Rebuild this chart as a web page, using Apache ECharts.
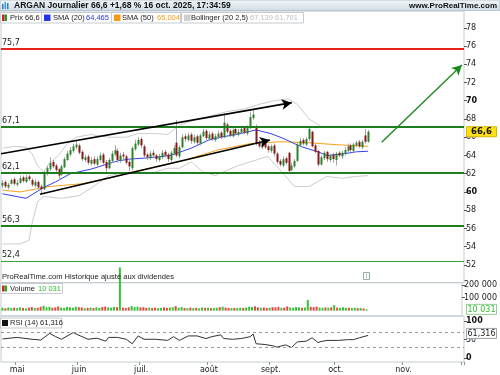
<!DOCTYPE html>
<html><head><meta charset="utf-8">
<script src="https://cdn.jsdelivr.net/npm/echarts@6/dist/echarts.min.js"></script>
<style>html,body{margin:0;padding:0;background:#fff}#c{width:500px;height:375px}</style>
</head><body><div id="c"></div><script>
// ---------- data ----------
const startDate = '2025-04-24';
const holidays = ['2025-05-01'];
const totalSlots = 157;
const monthLabels = {4:'mai',5:'juin',6:'juil.',7:'août',8:'sept.',9:'oct.',10:'nov.'};

const opens = [60.7,61.1,60.5,60.9,61.4,60.8,61.0,61.6,61.1,61.7,61.3,60.7,61.1,60.6,60.3,62.0,62.5,63.3,62.9,62.5,
61.9,62.7,63.5,64.1,64.5,64.9,65.1,64.4,63.5,63.9,63.1,63.6,63.0,63.5,64.1,63.3,62.6,63.4,64.1,64.5,
63.4,64.1,63.9,63.3,62.6,64.7,65.2,65.8,65.0,64.1,63.7,64.3,64.0,63.5,63.8,64.4,64.1,63.5,64.2,65.4,
63.9,64.9,66.1,65.7,66.3,65.5,66.1,65.3,66.1,66.7,65.8,66.4,65.7,66.0,66.5,66.0,67.4,66.7,66.1,66.9,
66.3,66.5,67.0,66.4,67.0,68.1,67.2,65.4,64.9,65.5,65.0,64.5,65.1,64.2,63.4,62.9,63.7,64.3,62.4,62.8,
63.4,65.1,65.7,65.2,65.8,66.6,65.1,64.5,63.0,63.7,64.4,63.5,64.1,63.5,64.3,63.9,64.2,64.5,65.1,64.5,
65.1,65.5,64.9,66.2,65.5];
const closes = [61.0,60.6,60.8,61.3,60.9,61.0,61.5,61.2,61.6,61.4,60.8,61.1,60.5,60.3,62.0,62.6,63.2,62.8,62.4,61.8,
62.8,63.6,64.2,64.6,65.0,65.2,64.3,63.6,63.8,63.2,63.5,63.1,63.6,64.0,63.2,62.6,63.5,64.2,64.6,63.5,
64.0,63.9,63.2,62.8,64.8,65.3,65.7,65.1,64.0,63.8,64.2,64.0,63.6,63.9,64.3,64.0,63.6,64.3,64.8,64.0,
64.9,66.0,65.8,66.2,65.6,66.0,65.4,66.2,66.6,65.9,66.3,65.8,66.1,66.4,66.0,67.6,66.6,66.2,66.8,66.4,
66.6,66.9,66.5,67.0,68.2,68.5,65.3,65.0,65.4,64.9,64.6,65.0,64.2,63.3,63.0,63.6,63.2,62.3,62.9,63.4,
65.2,65.6,65.3,65.8,66.9,65.0,64.4,63.0,63.8,64.3,63.6,64.0,63.6,64.2,64.0,64.3,64.6,65.0,64.6,65.2,
65.4,65.0,65.5,65.5,66.6];
const highs = [61.3,61.3,61.0,61.5,61.6,61.3,61.8,61.8,61.9,61.9,61.5,61.4,61.3,60.8,62.3,62.9,63.8,63.5,63.1,62.6,
63.0,63.8,64.5,64.9,65.3,65.6,65.3,64.6,64.1,64.1,63.8,63.9,63.9,64.3,64.3,63.5,63.7,64.5,65.1,64.8,
64.3,64.4,64.1,63.5,65.0,65.7,66.0,66.0,65.2,64.3,64.5,64.6,64.2,64.2,64.6,64.6,64.3,64.5,65.1,67.9,
65.1,66.3,66.4,66.5,66.5,66.3,66.3,66.4,66.9,66.9,66.6,66.6,66.4,66.7,66.7,68.6,67.6,66.9,67.0,67.1,
66.9,67.1,67.2,67.3,68.8,69.0,67.4,65.7,65.6,65.7,65.2,65.2,65.3,64.4,63.6,63.9,63.9,64.4,63.2,63.6,
65.4,65.9,65.9,66.0,67.1,66.7,65.3,64.6,64.0,64.5,64.5,64.2,64.3,64.4,64.5,64.5,64.9,65.3,65.3,65.4,
65.6,65.7,65.7,66.9,66.8];
const lows = [60.4,60.4,60.3,60.8,60.7,60.6,60.9,61.0,61.0,61.2,60.6,60.5,60.3,59.8,60.2,61.8,62.3,62.6,62.2,61.3,
61.8,62.6,63.4,63.9,64.3,64.7,64.1,63.4,63.3,63.0,62.9,62.9,62.8,63.3,63.0,62.2,62.5,63.2,63.9,63.2,
63.2,63.6,63.0,62.3,62.4,64.5,65.0,64.8,63.8,63.5,63.5,63.7,63.3,63.3,63.6,63.8,63.3,63.3,64.0,63.8,
63.7,64.8,65.5,65.5,65.3,65.3,65.1,65.1,66.0,65.7,65.6,65.6,65.5,65.8,65.8,65.9,66.4,66.0,66.0,66.2,
66.1,66.3,66.3,66.2,66.9,67.9,65.1,64.8,64.7,64.7,64.3,64.3,63.9,63.1,62.8,62.7,63.0,62.1,62.3,62.6,
63.3,64.9,65.1,65.0,65.6,64.9,64.2,62.8,62.9,63.5,63.3,63.3,63.2,62.9,63.8,63.6,64.0,64.3,64.4,64.3,
64.9,64.8,64.7,65.3,65.4];
const volumes = [22000,18000,25000,20000,23000,19000,26000,21000,17000,24000,28000,20000,22000,31000,38000,
27000,30000,22000,25000,33000,24000,21000,29000,26000,23000,30000,27000,25000,19000,22000,
24000,20000,26000,21000,28000,32000,25000,23000,29000,27000,335000,24000,20000,26000,36000,
28000,31000,25000,27000,22000,24000,20000,23000,19000,21000,25000,22000,24000,26000,35000,
23000,28000,21000,19000,24000,20000,22000,18000,25000,21000,23000,19000,20000,22000,27000,
30000,24000,21000,19000,22000,20000,23000,21000,24000,30000,28000,34000,26000,22000,25000,
21000,23000,27000,25000,29000,22000,24000,33000,25000,23000,28000,26000,22000,25000,82000,
30000,27000,31000,24000,22000,25000,23000,26000,43000,24000,22000,26000,21000,23000,20000,
22000,19000,21000,17000,10031];
const sma20 = [[0,59.8],[8,59.3],[14,60.5],[18,61.1],[23,62.0],[30,62.5],[33,62.8],[39,63.4],[43,63.6],[50,63.75],
[57,64.0],[64,64.8],[70,65.7],[74,66.0],[80,66.35],[86,66.8],[91,66.4],[95,65.9],[101,65.0],[107,64.4],[110,64.0],[115,64.15],[120,64.4],[124,64.465]];
const sma50 = [[0,60.2],[6,60.0],[16,60.6],[27,60.9],[36,61.5],[44,62.2],[57,63.1],[62,63.5],[73,64.6],[84,65.3],[94,65.5],[104,65.4],[108,65.3],[115,65.15],[124,65.004]];
const bollUpper = [[0,64.8],[4,65.0],[8,64.9],[10,64.2],[12,62.8],[14,62.2],[16,63.2],[19,64.0],[22,65.3],[25,66.0],[30,66.3],[36,66.0],[42,66.0],[46,66.4],[52,66.4],[56,66.3],[60,67.3],[64,67.8],[70,68.3],[76,68.8],[82,69.1],[87,69.6],[92,70.0],[97,70.2],[100,69.6],[104,68.0],[108,67.2],[115,67.2],[120,67.1],[124,67.139]];
const bollLower = [[0,54.3],[6,54.3],[9,54.7],[10,56.5],[12,59.0],[14,59.5],[20,59.3],[26,59.6],[30,60.4],[36,61.8],[42,62.1],[50,62.0],[56,62.6],[60,62.6],[64,63.3],[68,62.2],[72,61.8],[80,62.9],[90,63.9],[95,62.1],[99,60.6],[104,60.6],[110,61.7],[115,61.5],[120,61.7],[124,61.791]];
const rsi = [[0,52],[5,56],[10,51],[13,49],[16,67],[18,58],[20,51],[24,69],[25,65],[29,51],[32,54],[35,46],[36,56],[39,56],[42,51],[44,39],[46,60],[48,51],[52,51],[56,48],[58,58],[60,48],[63,60],[66,60],[69,53],[71,58],[74,63],[75,53],[78,51],[81,53],[84,58],[85,65],[86,39],[89,37],[92,33],[93,30],[96,36],[98,29],[100,44],[103,46],[105,55],[107,42],[108,45],[110,48],[114,48],[117,50],[119,50],[121,55],[124,61.316]];
const levels = [75.7, 67.1, 62.1, 56.3, 52.4];
const priceTicks = [52,54,56,58,60,62,64,66,68,70,72,74,76,78];
const boldPriceTicks = [60,70];
const volumeTicks = [100000,200000];
const rsiTicks = [0,50,100];
const rsiBands = [70,30];
const channelUpper = [[-0.5,64.18],[98.1,69.79]];
const channelLower = [[12.7,59.74],[90.7,65.70]];
const targetArrow = [[128.6,65.44],[155.8,73.92]];

// ---------- build ----------
const dates = [];
{
  let d = new Date(startDate + 'T00:00:00Z');
  while (dates.length < totalSlots) {
    const iso = d.toISOString().slice(0,10), wd = d.getUTCDay();
    if (wd !== 0 && wd !== 6 && holidays.indexOf(iso) < 0) dates.push(iso);
    d = new Date(d.getTime() + 86400000);
  }
}
const monthOf = s => +s.slice(5,7) - 1;
const isMonthStart = i => i > 0 && monthOf(dates[i]) !== monthOf(dates[i-1]);
const candleData = closes.map((c,i) => [i, opens[i], c, lows[i], highs[i]]);
const UP = '#2a822a', DOWN = '#861818';
const volData = volumes.map((v,i) => ({value: v, itemStyle: {color: closes[i] >= opens[i] ? '#33c633' : '#e04848'}}));
const fmtComma = v => String(v).replace('.', ',');
const fmtSpace = v => String(v).replace(/\B(?=(\d{3})+(?!\d))/g, ' ');
const FONT = 'DejaVu Sans';

const chart = echarts.init(document.getElementById('c'), null, {renderer: 'canvas'});
const gridStyle = {show: true, borderColor: '#c3ccd2', borderWidth: 1, backgroundColor: 'transparent'};
const yAxisBase = {axisLine: {show: false, onZero: false}, splitLine: {show: false}};
const option = {
  animation: false,
  backgroundColor: '#fff',
  grid: [
    Object.assign({left: 1, right: 36, top: 11, height: 271.7}, gridStyle),
    Object.assign({left: 1, right: 36, top: 282.7, height: 33.3}, gridStyle),
    Object.assign({left: 1, right: 36, top: 316, height: 46}, gridStyle)
  ],
  xAxis: [
    {type: 'category', gridIndex: 0, data: dates, show: false, boundaryGap: true},
    {type: 'category', gridIndex: 1, data: dates, show: false, boundaryGap: true},
    {type: 'category', gridIndex: 2, data: dates, boundaryGap: true,
      axisLine: {show: false, onZero: false},
      axisTick: {show: true, length: 3, inside: false, interval: (i) => isMonthStart(i), lineStyle: {color: '#8a9399'}},
      axisLabel: {interval: (i) => isMonthStart(i), margin: 4, fontSize: 8, fontFamily: FONT, color: '#222',
        formatter: (v) => monthLabels[monthOf(v)] || ''},
      splitLine: {show: false}},
    {type: 'value', gridIndex: 0, min: -0.5, max: totalSlots - 0.5, show: false, position: 'top', axisLine: {onZero: false}},
    {type: 'value', gridIndex: 2, min: -0.5, max: totalSlots - 0.5, show: false, position: 'top', axisLine: {onZero: false}}
  ],
  yAxis: [
    Object.assign({type: 'value', gridIndex: 0, position: 'right', min: 50.05, max: 79.84,
      axisTick: {show: true, length: 3, customValues: priceTicks, lineStyle: {color: '#555'}},
      axisLabel: {customValues: priceTicks, margin: 2, fontSize: 8, fontFamily: FONT, color: '#222',
        formatter: v => boldPriceTicks.indexOf(v) >= 0 ? '{b|' + v + '}' : String(v),
        rich: {b: {fontWeight: 'bold', fontSize: 8, fontFamily: FONT, color: '#111'}}}}, yAxisBase),
    Object.assign({type: 'value', gridIndex: 1, position: 'right', min: -41400, max: 216400,
      axisTick: {show: true, length: 3, customValues: volumeTicks, lineStyle: {color: '#555'}},
      axisLabel: {customValues: volumeTicks, margin: 2, fontSize: 8, fontFamily: FONT, color: '#222', formatter: fmtSpace}}, yAxisBase),
    Object.assign({type: 'value', gridIndex: 2, position: 'right', min: -9.9, max: 113.4,
      axisTick: {show: true, length: 3, customValues: rsiTicks, lineStyle: {color: '#555'}},
      axisLabel: {customValues: rsiTicks, margin: 2, fontSize: 8, fontFamily: FONT, color: '#222',
        formatter: v => (v === 0 || v === 100) ? '{b|' + v + '}' : String(v),
        rich: {b: {fontWeight: 'bold', fontSize: 8, fontFamily: FONT, color: '#111'}}}}, yAxisBase)
  ],
  series: [
    {type: 'line', xAxisIndex: 3, yAxisIndex: 0, data: bollUpper, showSymbol: false, lineStyle: {color: '#cccccc', width: 1}, z: 1},
    {type: 'line', xAxisIndex: 3, yAxisIndex: 0, data: bollLower, showSymbol: false, lineStyle: {color: '#cccccc', width: 1}, z: 1},
    {type: 'line', xAxisIndex: 3, yAxisIndex: 0, data: sma50, showSymbol: false, lineStyle: {color: '#f5a11c', width: 1}, z: 2},
    {type: 'line', xAxisIndex: 3, yAxisIndex: 0, data: sma20, showSymbol: false, lineStyle: {color: '#3340ec', width: 1}, z: 2},
    {type: 'custom', xAxisIndex: 0, yAxisIndex: 0, data: candleData, z: 4,
      encode: {x: 0, y: [1,2,3,4]},
      renderItem: (params, api) => {
        const i = api.value(0), o = api.value(1), c = api.value(2), l = api.value(3), h = api.value(4);
        const pO = api.coord([i, o]), pC = api.coord([i, c]), pL = api.coord([i, l]), pH = api.coord([i, h]);
        const x = Math.round(pO[0]);
        const top = Math.min(pO[1], pC[1]);
        return {type: 'group', children: [
          {type: 'line', shape: {x1: x + 0.5, y1: pH[1], x2: x + 0.5, y2: pL[1]}, style: {stroke: '#a4a4a4', lineWidth: 1}},
          {type: 'rect', shape: {x: x - 0.5, y: top, width: 2, height: Math.max(1, Math.abs(pO[1] - pC[1]))},
            style: {fill: c >= o ? UP : DOWN}}
        ]};
      },
      markLine: {silent: true, symbol: ['none','none'], animation: false,
        data: levels.map((v, k) => ({yAxis: v,
          lineStyle: {color: k === 0 ? '#e8231b' : (k === 4 ? '#3e9e3e' : '#1e7d1e'), width: k === 4 ? 1 : 2, type: 'solid'},
          label: {show: true, position: 'insideStartTop', distance: [1, 2], formatter: fmtComma(v), fontSize: 8, fontFamily: FONT, color: '#222'}}))}
    },
    {type: 'line', xAxisIndex: 3, yAxisIndex: 0, data: [], z: 5,
      markLine: {silent: true, animation: false, symbol: ['none', 'arrow'], symbolSize: [8, 10],
        data: [
          [{coord: channelUpper[0], lineStyle: {color: '#000', width: 1.6, type: 'solid'}}, {coord: channelUpper[1]}],
          [{coord: channelLower[0], lineStyle: {color: '#000', width: 1.6, type: 'solid'}}, {coord: channelLower[1]}],
          [{coord: targetArrow[0], lineStyle: {color: '#1d8a1d', width: 1.4, type: 'solid'}}, {coord: targetArrow[1]}]
        ], label: {show: false}}},
    {type: 'bar', xAxisIndex: 1, yAxisIndex: 1, data: volData, barWidth: 2, clip: false, z: 3},
    {type: 'line', xAxisIndex: 4, yAxisIndex: 2, data: rsi, showSymbol: false, lineStyle: {color: '#333', width: 1}, z: 3,
      markLine: {silent: true, symbol: ['none','none'], animation: false,
        data: rsiBands.map(v => ({yAxis: v})),
        lineStyle: {color: '#9a9a9a', width: 1, type: [3, 3]}, label: {show: false}}}
  ]
};
chart.setOption(option);

// ---------- decorations ----------
const T = (x, y, text, o) => ({type: 'text', x: x, y: y,
  style: Object.assign({text: text, fontSize: 7.5, fontFamily: 'Liberation Sans', fill: '#222', verticalAlign: 'middle'}, o || {})});
const R = (x, y, w, h, fill, stroke) => ({type: 'rect', shape: {x: x, y: y, width: w, height: h}, style: {fill: fill, stroke: stroke || null, lineWidth: 1}});
const Z = (el, z) => Object.assign(el, {z: z});
const g = [];
g.push({type: 'rect', shape: {x: 0, y: 0, width: 500, height: 10.5},
  style: {fill: new echarts.graphic.LinearGradient(0,0,0,1,[{offset:0,color:'#f2f6f8'},{offset:1,color:'#cfdce4'}]), stroke: '#b8c6cf', lineWidth: 1}, z: 10});
g.push(Z(R(2, 4, 1.5, 5, '#2e7bd0'), 11), Z(R(4.5, 2, 1.5, 7, '#3aa0e0'), 11), Z(R(7, 3, 1.5, 6, '#2e7bd0'), 11));
g.push(Z(T(14, 5.5, 'ARGAN Journalier 66,6 +1,68 % 16 oct. 2025, 17:34:59', {fontWeight: 'bold', fontSize: 8.5, fill: '#111'}), 11));
g.push(Z(T(497, 5.5, 'www.ProRealTime.com', {fontWeight: 'bold', fontSize: 8, fill: '#111', align: 'right'}), 11));
// legend boxes
const lg = (x, w) => Z(R(x + 0.5, 12.5, w, 10.5, '#fff', '#c4ccd2'), 10);
g.push(lg(0, 41), lg(41, 70), lg(111, 69), lg(181, 122));
g.push(Z(R(2, 14.5, 2.5, 6.5, '#d42020'), 11), Z(R(4.5, 14.5, 2.5, 6.5, '#20a020'), 11));
g.push(Z(T(10, 18, 'Prix 66,6'), 11));
g.push(Z(R(44, 14.5, 6.5, 6.5, '#2233ee'), 11));
g.push(Z(T(53, 18, 'SMA (20)'), 11));
g.push(Z(T(86, 18, '64,465', {fill: '#2233ee'}), 11));
g.push(Z(R(114, 14.5, 6.5, 6.5, '#f59a12'), 11));
g.push(Z(T(122, 18, 'SMA (50)'), 11));
g.push(Z(T(157, 18, '65,004', {fill: '#f59a12'}), 11));
g.push(Z(R(184, 14.5, 6.5, 6.5, '#cfcfcf'), 11));
g.push(Z(T(191, 18, 'Bollinger (20 2,5)'), 11));
g.push(Z(T(250, 18, '67,139 61,791', {fill: '#c0c0c0'}), 11));
// volume / rsi headers
g.push(Z(T(2, 276.5, 'ProRealTime.com Historique ajusté aux dividendes', {fontSize: 7.6, fill: '#222'}), 11));
g.push(Z(R(363.5, 272.5, 6, 7, '#fff', '#9aa'), 11), Z(T(366.5, 276, 'i', {fontSize: 6.5, align: 'center', fill: '#888'}), 12));
g.push(Z(R(0.5, 283.5, 62, 10, '#fff', '#c4ccd2'), 10));
g.push(Z(R(2, 285.5, 2.5, 6, '#d42020'), 11), Z(R(4.5, 285.5, 2.5, 6, '#20b020'), 11));
g.push(Z(T(10, 288.8, 'Volume'), 11), Z(T(38, 288.8, '10 031', {fill: '#33b833'}), 11));
g.push(Z(R(0.5, 318, 61, 10, '#fff', '#c4ccd2'), 10));
g.push(Z(R(2, 320, 6, 6, '#111'), 11));
g.push(Z(T(10, 323.2, 'RSI (14) 61,316'), 11));
// value markers on right axis
const yLast = chart.convertToPixel({yAxisIndex: 0}, closes[closes.length - 1]);
const yVol = chart.convertToPixel({yAxisIndex: 1}, volumes[volumes.length - 1]);
const yRsi = chart.convertToPixel({yAxisIndex: 2}, rsi[rsi.length - 1][1]);
g.push(Z(R(466.5, yLast - 5, 30, 10, '#ffdf1a', '#d6b800'), 12));
g.push(Z(T(481.5, yLast + 0.3, fmtComma(closes[closes.length - 1]), {fontWeight: 'bold', fontSize: 8.5, fontFamily: FONT, align: 'center', fill: '#111'}), 13));
g.push(Z(R(466.5, yVol - 5, 30, 10, '#fff', '#8fcf8f'), 12));
g.push(Z(T(481.5, yVol + 0.3, fmtSpace(volumes[volumes.length - 1]), {fontSize: 8, fontFamily: FONT, align: 'center', fill: '#33b833'}), 13));
g.push(Z(R(466.5, yRsi - 7, 30, 10, '#fff', '#9aa4aa'), 12));
g.push(Z(T(481.5, yRsi - 1.7, fmtComma(rsi[rsi.length - 1][1]), {fontSize: 8, fontFamily: FONT, align: 'center', fill: '#222'}), 13));
chart.setOption({graphic: g});
</script></body></html>
